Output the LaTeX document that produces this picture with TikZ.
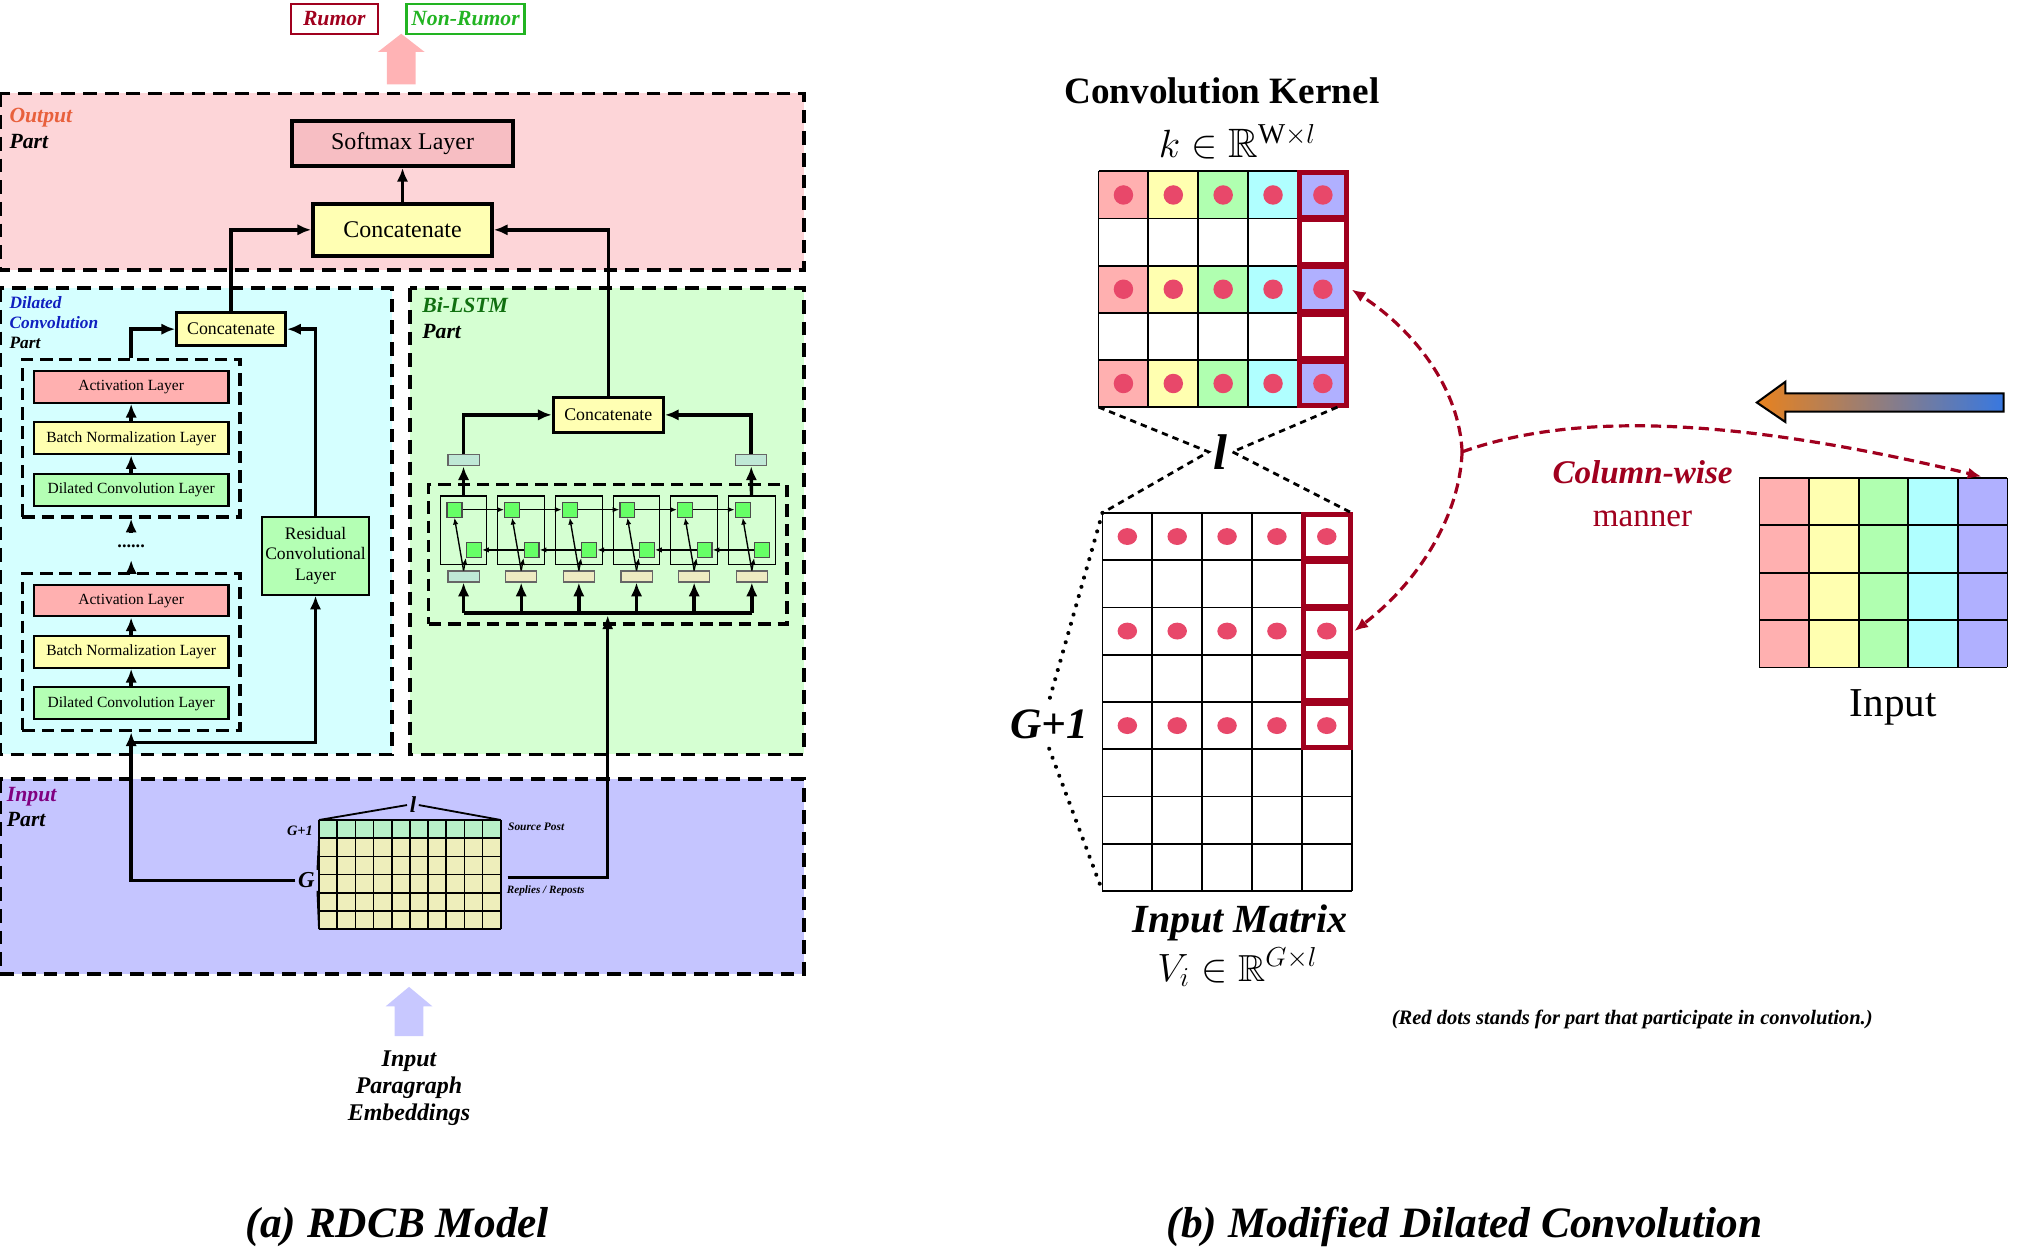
\documentclass[tikz,border=0pt]{standalone}
\usepackage{fontspec}
\usepackage{amsmath, amssymb}
\setmainfont{Liberation Serif}
\usetikzlibrary{fit, positioning, arrows.meta}

\definecolor{rumorred}{HTML}{A0001E}
\definecolor{darkred}{HTML}{A0001E}
\definecolor{nongreen}{HTML}{22B422}
\definecolor{outbg}{HTML}{FDD5D8}
\definecolor{softpink}{HTML}{F7BEC3}
\definecolor{concyel}{HTML}{FFFFB3}
\definecolor{dilbg}{HTML}{D5FFFF}
\definecolor{lstmbg}{HTML}{D5FFD2}
\definecolor{inbg}{HTML}{C5C5FF}
\definecolor{actpink}{HTML}{FFB0B0}
\definecolor{bnyel}{HTML}{FFFFB0}
\definecolor{dcgreen}{HTML}{B4FFB4}
\definecolor{cellgreen}{HTML}{66FF66}
\definecolor{tealbox}{HTML}{BFE8D6}
\definecolor{beigebox}{HTML}{EEEBC2}
\definecolor{srcrow}{HTML}{B8F0C8}
\definecolor{reprow}{HTML}{EEEEBB}
\definecolor{outorange}{HTML}{E8603C}
\definecolor{dilblue}{HTML}{1020C0}
\definecolor{lstmgreen}{HTML}{107010}
\definecolor{inpurple}{HTML}{800080}
\definecolor{arrpink}{HTML}{FFB3B5}
\definecolor{arrlav}{HTML}{C8C8FF}
\definecolor{kpink}{HTML}{FFB0B0}
\definecolor{kyellow}{HTML}{FFFFB0}
\definecolor{kgreen}{HTML}{B0FFB0}
\definecolor{kcyan}{HTML}{B0FFFF}
\definecolor{kpurple}{HTML}{B0B0FF}
\definecolor{dotred}{HTML}{E8486A}
\definecolor{gradorange}{HTML}{E8821E}
\definecolor{gradblue}{HTML}{3878E0}

\begin{document}
\begin{tikzpicture}
% style
	[x=0.02cm, y=-0.02cm, >={Latex[length=6pt, width=5pt]},
	partbox/.style={draw=black, line width=1.6pt, dash pattern=on 6pt off 3.5pt},
	groupbox/.style={rectangle, draw=black, line width=1.5pt, dash pattern=on 5.5pt off 3pt, inner sep=0.16cm},
	partlabel/.style={anchor=north west, align=left, inner sep=0pt},
	clsbox/.style={rectangle, line width=1pt, minimum height=0.46cm, inner sep=0pt, font=\fontsize{9.5}{11}\selectfont\bfseries\itshape},
	bigbox/.style={rectangle, draw=black, line width=1.6pt, inner sep=0pt, font=\fontsize{10.5}{12}\selectfont},
	midbox/.style={rectangle, draw=black, line width=1.3pt, fill=concyel, inner sep=0pt, font=\fontsize{7.8}{9}\selectfont},
	layerbox/.style={rectangle, draw=black, line width=0.9pt, minimum width=3cm, minimum height=0.49cm, inner sep=0pt, font=\fontsize{6.8}{8}\selectfont},
	lstmcell/.style={rectangle, draw=black, line width=0.5pt, minimum width=0.72cm, minimum height=1.06cm, inner sep=0pt},
	gatesq/.style={rectangle, draw=black!70, line width=0.5pt, fill=cellgreen, minimum size=0.23cm, inner sep=0pt},
	vecbox/.style={rectangle, draw=black!60, line width=0.5pt, minimum width=0.48cm, minimum height=0.17cm, inner sep=0pt},
	conn/.style={line width=1.5pt},
	thinarrow/.style={line width=0.6pt, -{Latex[length=3pt, width=2.4pt]}},
	gridline/.style={line width=0.8pt},
	redcell/.style={draw=darkred, line width=2.2pt},
	kerneldash/.style={line width=1.2pt, dash pattern=on 2.8pt off 2.2pt},
	gdots/.style={line width=1.8pt, dash pattern=on 0.01pt off 4.2pt, line cap=round},
	redcurve/.style={draw=darkred, line width=1.4pt, dash pattern=on 4.5pt off 2.5pt, -{Latex[length=6pt, width=5pt]}}]

	\useasboundingbox (0,0) rectangle (1568,964);

	% (a) RDCB model
	\node [clsbox, draw=rumorred, text=rumorred, minimum width=1.34cm] (rumor) at (257.5,14.5) {Rumor};
	\node [clsbox, draw=nongreen, text=nongreen, minimum width=1.82cm] (nonrumor) at (358.5,14.5) {Non-Rumor};
	\fill [arrpink] (298,65) -- (298,40) -- (291,40) -- (309,26) -- (327,40) -- (320,40) -- (320,65) -- cycle;

	% output part
	\draw [partbox, fill=outbg] (0,72) rectangle (619,208);
	\node [partlabel, font=\fontsize{9.5}{11.4}\selectfont\bfseries\itshape] (outlabel) at (7,83) {\textcolor{outorange}{Output}\\Part};
	\node [bigbox, fill=softpink, minimum width=3.4cm, minimum height=0.7cm] (softmax) at (310,110.5) {Softmax Layer};
	\node [bigbox, fill=concyel, minimum width=2.76cm, minimum height=0.8cm] (concat) at (310,177) {Concatenate};
	\path [->, conn] (concat) edge (softmax);

	% dilated convolution part
	\draw [partbox, fill=dilbg] (0,222) rectangle (302,581);
	\node [partlabel, font=\fontsize{7.6}{8.8}\selectfont\bfseries\itshape] (dillabel) at (7,228) {\textcolor{dilblue}{Dilated}\\\textcolor{dilblue}{Convolution}\\Part};
	\node [midbox, minimum width=1.68cm, minimum height=0.5cm] (dconcat) at (178,253.5) {Concatenate};
	\node [layerbox, fill=actpink] (act1) at (101,298) {Activation Layer};
	\node [layerbox, fill=bnyel, below=0.27cm of act1] (bn1) {Batch Normalization Layer};
	\node [layerbox, fill=dcgreen, below=0.27cm of bn1] (dc1) {Dilated Convolution Layer};
	\node [groupbox, fit=(act1)(dc1)] (grp1) {};
	\node [layerbox, fill=actpink] (act2) at (101,462.5) {Activation Layer};
	\node [layerbox, fill=bnyel, below=0.27cm of act2] (bn2) {Batch Normalization Layer};
	\node [layerbox, fill=dcgreen, below=0.27cm of bn2] (dc2) {Dilated Convolution Layer};
	\node [groupbox, fit=(act2)(dc2)] (grp2) {};
	\node [minimum height=0.4cm, inner sep=0pt, font=\fontsize{8}{9}\selectfont\bfseries] (dots) at (101,421) {......};
	\node [rectangle, draw=black, line width=0.9pt, fill=dcgreen, minimum width=1.64cm, minimum height=1.2cm, inner sep=0pt, align=center, font=\fontsize{7.7}{9.1}\selectfont] (resid) at (243,428) {Residual\\Convolutional\\Layer};
	\path [->, conn] (dc1) edge (bn1)
	                 (bn1) edge (act1)
	                 (dc2) edge (bn2)
	                 (bn2) edge (act2)
	                 (grp2) edge (dots)
	                 (dots) edge (grp1);
	\draw [->, conn] (grp1.north) |- (dconcat.west);
	\draw [->, conn] (resid.north) |- (dconcat.east);
	\draw [->, conn] (dconcat.north) |- (concat.west);

	% bi-lstm part
	\draw [partbox, fill=lstmbg] (316,222) rectangle (619,581);
	\node [partlabel, font=\fontsize{9.5}{11.4}\selectfont\bfseries\itshape] (lstmlabel) at (325,229) {\textcolor{lstmgreen}{Bi-LSTM}\\Part};
	\node [midbox, minimum width=1.7cm, minimum height=0.54cm] (lconcat) at (468.5,319.5) {Concatenate};
	\draw [->, conn] (lconcat.north) |- (concat.east);
	\foreach \i in {1,...,6} {
		\pgfmathsetmacro\cx{357+44.4*(\i-1)}
		\ifnum\i=1 \def\xfill{tealbox}\else\def\xfill{beigebox}\fi
		\node [lstmcell] (cell\i) at (\cx,408.5) {};
		\node [gatesq] (f\i) at (\cx-7,392.5) {};
		\node [gatesq] (b\i) at (\cx+8,423.5) {};
		\node [vecbox, fill=\xfill] (x\i) at (\cx,444) {};
		\coordinate (bus\i) at (\cx,472);
	}
	\foreach \i [count=\j from 2] in {1,...,5} {
		\draw [thinarrow] (f\i) -- (f\j);
		\draw [thinarrow] (b\j) -- (b\i);
	}
	\foreach \i in {1,...,6} {
		\draw [thinarrow] (x\i.north) -- (f\i.south);
		\draw [thinarrow] (x\i.north) -- (b\i.south west);
		\draw [->, conn] (bus\i) -- (x\i.south);
	}
	\draw [conn] (bus1) -- (bus6);
	\node [groupbox, fit=(cell1)(cell6)(bus1), inner sep=0.17cm] (lstmgrp) {};
	\node [vecbox, fill=tealbox] (fwdout) at (357,354.5) {};
	\node [vecbox, fill=tealbox] (bwdout) at (578.5,354.5) {};
	\path [->, conn] (cell1) edge (fwdout)
	                 (cell6) edge (bwdout);
	\draw [->, conn] (fwdout.north) |- (lconcat.west);
	\draw [->, conn] (bwdout.north) |- (lconcat.east);

	% input part
	\draw [partbox, fill=inbg] (0,600) rectangle (619,750);
	\node [partlabel, font=\fontsize{9.5}{10.8}\selectfont\bfseries\itshape] (inlabel) at (5,606) {\textcolor{inpurple}{Input}\\Part};
	\fill [srcrow] (245.7,631.5) rectangle ++(140,14);
	\fill [reprow] (245.7,645.5) rectangle ++(140,70);
	\foreach \ci in {0,...,10}
		\draw [line width=0.7pt] (245.7+14*\ci,631.5) -- ++(0,84);
	\foreach \ri in {0,...,6}
		\draw [line width=0.7pt] (245.7,631.5+14*\ri) -- ++(140,0);
	\coordinate (smtl) at (245.7,631.5);
	\coordinate (smtr) at (385.7,631.5);
	\coordinate (sgtop) at (245.7,646);
	\coordinate (sgbot) at (245.7,715.5);
	\node [inner sep=1pt, font=\fontsize{10}{12}\selectfont\bfseries\itshape] (lsmall) at (318,620) {l};
	\node [inner sep=0pt, font=\fontsize{6.3}{7}\selectfont\bfseries\itshape] (gp1small) at (231,640) {G+1};
	\node [inner sep=1pt, font=\fontsize{10}{12}\selectfont\bfseries\itshape] (gnode) at (236,678) {G};
	\node [anchor=west, inner sep=0pt, font=\fontsize{5}{6}\selectfont\bfseries\itshape] (srcpost) at (391,637) {Source Post};
	\node [anchor=west, inner sep=0pt, font=\fontsize{4.9}{6}\selectfont\bfseries\itshape] (replies) at (390,686) {Replies / Reposts};
	\draw [line width=0.8pt] (smtl) -- (lsmall.west);
	\draw [line width=0.8pt] (lsmall.east) -- (smtr);
	\draw [line width=0.8pt] (sgtop) -- (gnode.north east);
	\draw [line width=0.8pt] (gnode.south east) -- (sgbot);
	\coordinate (mright) at (391,676);
	\coordinate (busin) at (468,474);
	\coordinate (split) at (101,572);
	\draw [->, conn] (gnode.west) -| (grp2.south);
	\draw [->, conn] (split) -| (resid.south);
	\draw [->, conn] (mright) -| (busin);

	% input embeddings
	\fill [arrlav] (304,798) -- (304,775) -- (297,775) -- (315,760) -- (333,775) -- (326,775) -- (326,798) -- cycle;
	\node [align=center, font=\fontsize{10.5}{12}\selectfont\bfseries\itshape] (embtext) at (315,838) {Input\\Paragraph\\Embeddings};
	\node [font=\fontsize{19}{22}\selectfont\bfseries\itshape] (capa) at (306,945) {(a) RDCB Model};

	% (b) modified dilated convolution
	\node [font=\fontsize{16.3}{19}\selectfont\bfseries] (kerneltitle) at (941,70) {Convolution Kernel};
	\node [font=\fontsize{18}{21}\selectfont] (kernelmath) at (953,109) {$k \in \mathbb{R}^{\mathrm{W}\times l}$};
	\foreach \ci/\kcol in {0/kpink, 1/kyellow, 2/kgreen, 3/kcyan, 4/kpurple}
		\foreach \ri in {0,2,4}
			\fill [\kcol] (846+38.4*\ci,132+36.3*\ri) rectangle ++(38.4,36.3);
	\foreach \ci in {0,...,5}
		\draw [gridline] (846+38.4*\ci,132) -- ++(0,181.5);
	\foreach \ri in {0,...,5}
		\draw [gridline] (846,132+36.3*\ri) -- ++(192,0);
	\foreach \ci in {0,...,4}
		\foreach \ri in {0,2,4}
			\fill [dotred] (865.2+38.4*\ci,150.15+36.3*\ri) circle [radius=0.15cm];
	\foreach \ri in {0,...,4}
		\draw [redcell] (1000.6,133+36.3*\ri) rectangle ++(36.4,34.3);

	% input matrix
	\foreach \ci in {0,...,5}
		\draw [gridline] (849+38.4*\ci,395) -- ++(0,291.2);
	\foreach \ri in {0,...,8}
		\draw [gridline] (849,395+36.4*\ri) -- ++(192,0);
	\foreach \ci in {0,...,4}
		\foreach \ri in {0,2,4}
			\fill [dotred] (868.2+38.4*\ci,413.2+36.4*\ri) ellipse [x radius=0.15cm, y radius=0.13cm];
	\foreach \ri in {0,...,4}
		\draw [redcell] (1003.6,396+36.4*\ri) rectangle ++(36.4,34.4);

	\coordinate (kbl) at (846,313.5);
	\coordinate (kbr) at (1030,313.5);
	\coordinate (mtl) at (849,395);
	\coordinate (mtr) at (1041,395);
	\coordinate (mbl) at (849,686.2);
	\node [inner sep=2pt, font=\fontsize{22}{24}\selectfont\bfseries\itshape] (lbig) at (940,348) {l};
	\draw [kerneldash] (kbl) -- (lbig.west) -- (mtl);
	\draw [kerneldash] (kbr) -- (lbig.east) -- (mtr);
	\node [inner sep=4pt, font=\fontsize{19}{22}\selectfont\bfseries\itshape] (gp1) at (808,558) {G+1};
	\draw [gdots] (mtl) -- (gp1.north);
	\draw [gdots] (gp1.south) -- (mbl);
	\node [font=\fontsize{17.5}{20}\selectfont\bfseries\itshape] (inmat) at (955,711) {Input Matrix};
	\node [font=\fontsize{16.5}{19}\selectfont] (inmath) at (953,745) {$V_i \in \mathbb{R}^{G\times l}$};
	\node [font=\fontsize{9}{11}\selectfont\bfseries\itshape] (rednote) at (1257,785) {(Red dots stands for part that participate in convolution.)};
	\node [font=\fontsize{19}{22}\selectfont\bfseries\itshape] (capb) at (1128,945) {(b) Modified Dilated Convolution};

	% input
	\foreach \ci/\kcol in {0/kpink, 1/kyellow, 2/kgreen, 3/kcyan, 4/kpurple}
		\fill [\kcol] (1355+38.2*\ci,368) rectangle ++(38.2,146);
	\foreach \ci in {0,...,5}
		\draw [gridline] (1355+38.2*\ci,368) -- ++(0,146);
	\foreach \ri in {0,...,4}
		\draw [gridline] (1355,368+36.5*\ri) -- ++(191,0);
	\node [font=\fontsize{18}{21}\selectfont] (inlab) at (1458,545) {Input};
	\shade [left color=gradorange, right color=gradblue] (1353,310) -- (1375,294) -- (1375,303) -- (1543,303) -- (1543,317) -- (1375,317) -- (1375,325) -- cycle;
	\draw [line width=0.9pt] (1353,310) -- (1375,294) -- (1375,303) -- (1543,303) -- (1543,317) -- (1375,317) -- (1375,325) -- cycle;
	\node [align=center, text=darkred, font=\fontsize{14.5}{18.8}\selectfont] (manner) at (1265,380) {{\bfseries\itshape Column-wise}\\manner};

	% column-wise links
	\coordinate (junc) at (1126,348);
	\coordinate (kcol) at (1041,223);
	\coordinate (mcol) at (1043,486);
	\coordinate (incol) at (1526,367);
	\draw [redcurve] (junc) .. controls (1124,300) and (1090,255) .. (kcol);
	\draw [redcurve] (junc) .. controls (1124,400) and (1090,450) .. (mcol);
	\draw [redcurve] (junc) .. controls (1210,318) and (1330,320) .. (incol);
\end{tikzpicture}
\end{document}
